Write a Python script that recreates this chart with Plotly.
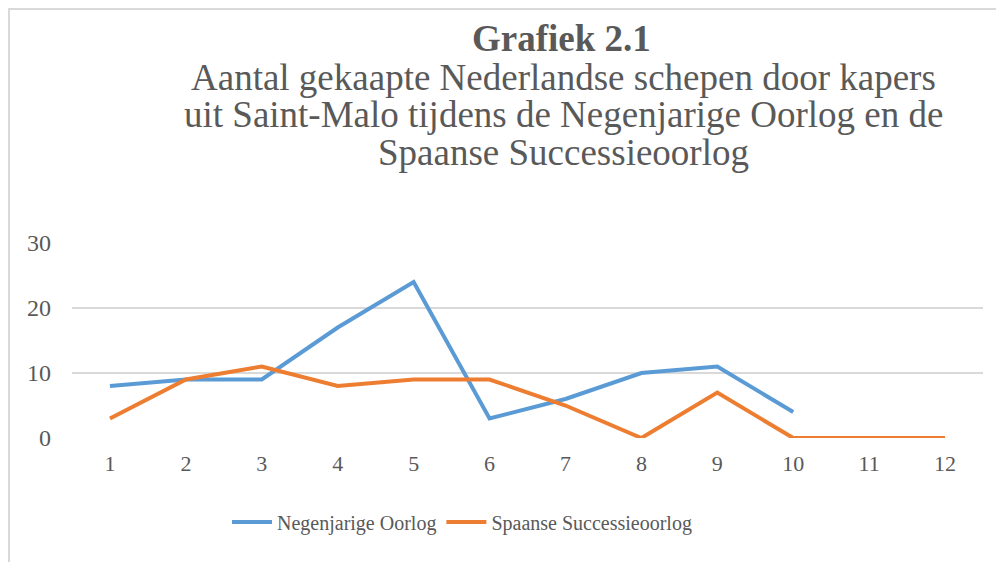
import plotly.graph_objects as go

categories = [str(i) for i in range(1, 13)]
negenjarige = [8, 9, 9, 17, 24, 3, 6, 10, 11, 4]
spaanse = [3, 9, 11, 8, 9, 9, 5, 0, 7, 0, 0, 0]
series_names = ["Negenjarige Oorlog", "Spaanse Successieoorlog"]
title_main = "Grafiek 2.1"
subtitle_lines = [
    "Aantal gekaapte Nederlandse schepen door kapers",
    "uit Saint-Malo tijdens de Negenjarige Oorlog en de",
    "Spaanse Successieoorlog",
]
y_ticks = [0, 10, 20, 30]

FONT = "Liberation Serif"
TXT = "#595959"

fig = go.Figure()
fig.add_trace(go.Scatter(x=categories[:len(negenjarige)], y=negenjarige, mode="lines",
                         name=series_names[0], line=dict(color="#5B9BD5", width=4)))
fig.add_trace(go.Scatter(x=categories, y=spaanse, mode="lines",
                         name=series_names[1], line=dict(color="#ED7D31", width=4)))

# page offset (body margin) of 8px
OFF = 8
W, H = 996, 554
L, R, T, B = 64, 21, 235, 124
pw, ph = W - L - R, H - T - B

def px(x):  # page x -> paper
    return (x - OFF - L) / pw

def py(y):  # page y -> paper
    return (H - B - (y - OFF)) / ph

fig.add_shape(type="rect", xref="paper", yref="paper",
              x0=px(9), x1=px(1012), y0=py(9), y1=py(575),
              line=dict(color="#D9D9D9", width=2), layer="below")

fig.add_annotation(text="<b>" + title_main + "</b>", xref="paper", yref="paper",
                   x=px(561), y=py(38), showarrow=False,
                   font=dict(family=FONT, size=37, color=TXT), xanchor="center", yanchor="middle")
for i, line in enumerate(subtitle_lines):
    fig.add_annotation(text=line, xref="paper", yref="paper",
                       x=px(563), y=py(78 + 37 * i), showarrow=False,
                       font=dict(family=FONT, size=37, color=TXT), xanchor="center", yanchor="middle")

fig.update_layout(
    width=W, height=H,
    margin=dict(l=L, r=R, t=T, b=B),
    paper_bgcolor="white", plot_bgcolor="white",
    font=dict(family=FONT, color=TXT, size=22),
    showlegend=True,
    legend=dict(orientation="h", x=px(462), xanchor="center", y=py(522), yanchor="middle",
                font=dict(family=FONT, size=20, color=TXT), itemwidth=40,
                bgcolor="rgba(0,0,0,0)"),
    xaxis=dict(type="category", categoryorder="array", categoryarray=categories,
               showgrid=False, zeroline=False, showline=False, ticks="",
               tickfont=dict(size=22, color=TXT), range=[-0.5, 11.5], fixedrange=True,
               ticklabelstandoff=10),
    yaxis=dict(range=[0, 30], tickvals=y_ticks, showgrid=True, gridcolor="#D9D9D9",
               gridwidth=1.5, zeroline=False, showline=False, ticks="",
               tickfont=dict(size=24, color=TXT), ticklabelstandoff=20, fixedrange=True),
)

fig.write_html("out.html")
